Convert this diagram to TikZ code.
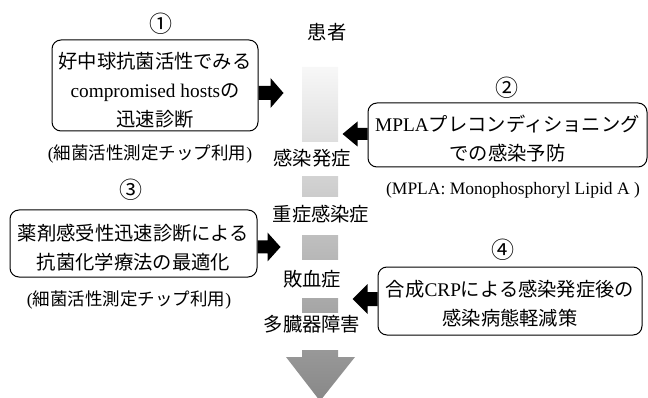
\documentclass[tikz,border=0pt]{standalone}
\usepackage{fontspec}
\setmainfont{Liberation Serif}
\newfontfamily\jp{Noto Sans CJK JP}
\usetikzlibrary{calc}
\begin{document}
\begin{tikzpicture}[x=1pt,y=-1pt,
  box/.style={draw,line width=1pt,rounded corners=9pt,inner sep=0pt},
  boxtext/.style={align=center,inner sep=0pt,font=\fontsize{19.3}{29}\selectfont},
  lbl/.style={font=\jp\fontsize{19.3}{20}\selectfont,inner sep=0pt},
  num/.style={font=\jp\fontsize{23}{24}\selectfont,inner sep=0pt},
  captext/.style={font=\fontsize{17.5}{20}\selectfont,inner sep=0pt},
  blk/.style={fill=black},
  gap/.style={fill=white,draw=none}]
\useasboundingbox (0,0) rectangle (648,398);
% central gradient arrow
\shade[top color=white!97!black,bottom color=black!47]
  (302,67) -- (338,67) -- (338,357) -- (355,357) -- (320,401) -- (286,357) -- (302,357) -- cycle;
\fill[gap] (298,142) rectangle (342,176);
\fill[gap] (298,197) rectangle (342,235);
\fill[gap] (298,260) rectangle (342,298);
\fill[gap] (298,313) rectangle (342,350);
\node[lbl] (p0) at (327,32) {患者};
\node[lbl] (p1) at (312,158) {感染発症};
\node[lbl] (p2) at (321,214) {重症感染症};
\node[lbl] (p3) at (312,279) {敗血症};
\node[lbl] (p4) at (312,324) {多臓器障害};
% boxes
\node[box,minimum width=206pt,minimum height=91pt] (b1) at (155,85.5) {};
\node[boxtext] (b1t) at ($(b1)+(0,4.5)$)
  {{\jp 好中球抗菌活性でみる}\\compromised hosts{\jp の}\\{\jp 迅速診断}};
\node[box,minimum width=279pt,minimum height=64pt] (b2) at (507.5,135) {};
\node[boxtext] (b2t) at ($(b2)+(0,4)$)
  {MPLA{\jp プレコンディショニング}\\{\jp での感染予防}};
\node[box,minimum width=247pt,minimum height=67pt] (b3) at (133.5,243.5) {};
\node[boxtext] (b3t) at ($(b3)+(0,4)$)
  {{\jp 薬剤感受性迅速診断による}\\{\jp 抗菌化学療法の最適化}};
\node[box,minimum width=264pt,minimum height=68pt] (b4) at (510,301) {};
\node[boxtext] (b4t) at ($(b4)+(0,2.5)$)
  {{\jp 合成}CRP{\jp による感染発症後の}\\{\jp 感染病態軽減策}};
% numbers
\node[num] (n1) at (161,24) {①};
\node[num] (n2) at (507,88) {②};
\node[num] (n3) at (131,190) {③};
\node[num] (n4) at (503,250) {④};
% captions
\node[captext] (c1) at (150,154) {({\jp 細菌活性測定チップ利用})};
\node[captext] (c2) at (513,190) {(MPLA: Monophosphoryl Lipid A )};
\node[captext] (c3) at (129,300) {({\jp 細菌活性測定チップ利用})};
% block arrows
\coordinate (t1) at ($(b1.east)+(0,7.5)$);
\coordinate (t2) at ($(b2.west)+(0,-1)$);
\coordinate (t3) at ($(b3.east)+(0,3.5)$);
\coordinate (t4) at ($(b4.west)+(0,-2)$);
\fill[blk] (t1) ++(0,-7) -- ++(12,0) -- ++(0,-8) -- ++(13,15) -- ++(-13,15) -- ++(0,-8) -- ++(-12,0) -- cycle;
\fill[blk] (t2) ++(0,-6) -- ++(-10,0) -- ++(0,-6.5) -- ++(-15,12.5) -- ++(15,12.5) -- ++(0,-6.5) -- ++(10,0) -- cycle;
\fill[blk] (t3) ++(0,-6.5) -- ++(10,0) -- ++(0,-8) -- ++(13,14.5) -- ++(-13,14.5) -- ++(0,-8) -- ++(-10,0) -- cycle;
\fill[blk] (t4) ++(0,-7) -- ++(-10,0) -- ++(0,-8) -- ++(-15,15) -- ++(15,15) -- ++(0,-8) -- ++(10,0) -- cycle;
\end{tikzpicture}
\end{document}
